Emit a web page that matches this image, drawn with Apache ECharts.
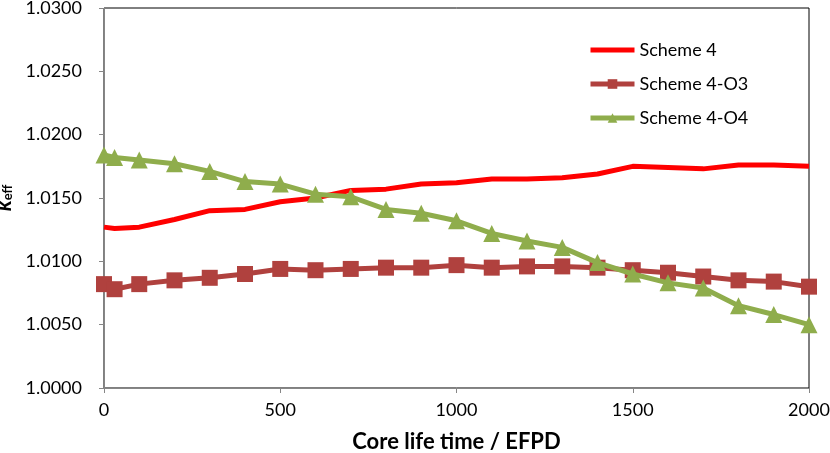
<!DOCTYPE html>
<html>
<head>
<meta charset="utf-8">
<script src="https://cdn.jsdelivr.net/npm/echarts@6/dist/echarts.min.js"></script>
<style>
  html, body { margin: 0; padding: 0; background: #fff; }
  #main { width: 830px; height: 453px; }
</style>
</head>
<body>
<div id="main"></div>
<script>
// burnup steps (EFPD)
var days = [0, 30, 100, 200, 300, 400, 500, 600, 700, 800, 900, 1000,
            1100, 1200, 1300, 1400, 1500, 1600, 1700, 1800, 1900, 2000];
// k_eff values
var scheme4 = [1.0127, 1.0126, 1.0127, 1.0133, 1.0140, 1.0141, 1.0147, 1.0150, 1.0156, 1.0157, 1.0161, 1.0162,
               1.0165, 1.0165, 1.0166, 1.0169, 1.0175, 1.0174, 1.0173, 1.0176, 1.0176, 1.0175];
var scheme4O3 = [1.0082, 1.0078, 1.0082, 1.0085, 1.0087, 1.0090, 1.0094, 1.0093, 1.0094, 1.0095, 1.0095, 1.0097,
                 1.0095, 1.0096, 1.0096, 1.0095, 1.0093, 1.0091, 1.0088, 1.0085, 1.0084, 1.0080];
var scheme4O4 = [1.0184, 1.0182, 1.0180, 1.0177, 1.0171, 1.0163, 1.0161, 1.0153, 1.0151, 1.0141, 1.0138, 1.0132,
                 1.0122, 1.0116, 1.0111, 1.0099, 1.0090, 1.0083, 1.0079, 1.0065, 1.0058, 1.0050];
var seriesNames = ['Scheme 4', 'Scheme 4-O3', 'Scheme 4-O4'];

function pairs(ys) {
    var out = [];
    for (var i = 0; i < days.length; i++) {
        out.push([days[i], ys[i]]);
    }
    return out;
}

var chart = echarts.init(document.getElementById('main'));
var fontFam = 'Lato, "Open Sans", sans-serif';

var option = {
    animation: false,
    textStyle: { fontFamily: fontFam },
    grid: {
        left: 104, right: 21, top: 8, bottom: 65,
        containLabel: false,
        outerBoundsMode: 'none',
        show: true, borderColor: '#000', borderWidth: 1
    },
    legend: {
        orient: 'vertical',
        left: 588, top: 41,
        padding: 0,
        itemWidth: 44, itemHeight: 12, itemGap: 16,
        lineStyle: { width: 5 },
        textStyle: { fontSize: 18, color: '#000', fontFamily: fontFam },
        data: [
            { name: seriesNames[0], itemStyle: { opacity: 0 } },
            { name: seriesNames[1] },
            { name: seriesNames[2] }
        ]
    },
    xAxis: {
        type: 'value',
        min: 0, max: 2000, interval: 500,
        name: 'Core life time / EFPD',
        nameLocation: 'middle',
        nameGap: 43,
        nameTextStyle: { fontSize: 22, fontWeight: 'bold', color: '#000' },
        axisLine: { lineStyle: { color: '#868686', width: 1 } },
        axisTick: { show: true, length: 5, lineStyle: { color: '#868686' } },
        axisLabel: {
            fontSize: 18, color: '#000', margin: 13,
            formatter: function (v) { return String(v); }
        },
        splitLine: { show: false }
    },
    yAxis: {
        type: 'value',
        min: 1.0, max: 1.03, interval: 0.005,
        name: '{k|k}{s|eff}',
        nameLocation: 'middle',
        nameRotate: 90,
        nameGap: 68,
        nameTextStyle: {
            rich: {
                k: { fontSize: 22, fontWeight: 'bold', fontStyle: 'italic', color: '#000' },
                s: { fontSize: 13, fontWeight: 'bold', color: '#000', verticalAlign: 'bottom', padding: [8, 0, 0, 0] }
            }
        },
        axisLine: { show: true, lineStyle: { color: '#868686', width: 1 } },
        axisTick: { show: true, length: 5, lineStyle: { color: '#868686' } },
        axisLabel: {
            fontSize: 18, color: '#000', margin: 22,
            formatter: function (v) { return v.toFixed(4); }
        },
        splitLine: { show: false }
    },
    series: [
        {
            name: seriesNames[0],
            type: 'line',
            data: pairs(scheme4),
            symbol: 'none',
            lineStyle: { color: '#ff0000', width: 5 },
            itemStyle: { color: '#ff0000' },
            z: 3
        },
        {
            name: seriesNames[1],
            type: 'line',
            data: pairs(scheme4O3),
            symbol: 'rect',
            symbolSize: 16,
            lineStyle: { color: '#b0413e', width: 5 },
            itemStyle: { color: '#b0413e' },
            z: 2
        },
        {
            name: seriesNames[2],
            type: 'line',
            data: pairs(scheme4O4),
            symbol: 'triangle',
            symbolSize: 17,
            lineStyle: { color: '#8fad4c', width: 5 },
            itemStyle: { color: '#8fad4c' },
            z: 4
        }
    ]
};

chart.setOption(option);
</script>
</body>
</html>
